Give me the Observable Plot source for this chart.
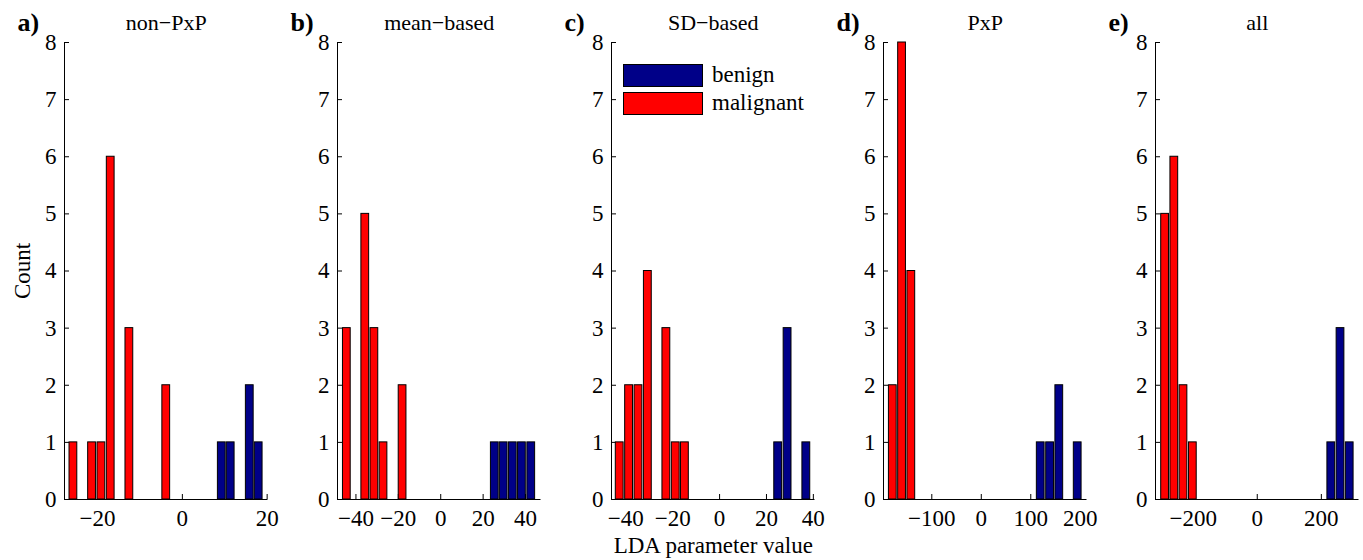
<!DOCTYPE html>
<html>
<head>
<meta charset="utf-8">
<script src="https://cdn.jsdelivr.net/npm/d3@7"></script>
<script src="https://cdn.jsdelivr.net/npm/@observablehq/plot@0.6"></script>
<style>
  html, body { margin: 0; padding: 0; background: #fff; }
  #chart { position: relative; width: 1363px; height: 560px; font-family: "Liberation Serif", "Times New Roman", serif; }
  #chart svg { position: absolute; top: 0; overflow: visible; }
  .legend { position: absolute; left: 623px; top: 61px; font-size: 23px; color: #000; }
  .legend .row { display: flex; align-items: center; height: 28px; }
  .legend .sw { width: 80px; height: 23px; border: 1px solid #000; box-sizing: border-box; margin-right: 9px; }
</style>
</head>
<body>
<div id="chart"></div>
<script>
// ---- data ----
const panelLetters = ["a)", "b)", "c)", "d)", "e)"];
const panelTitles = ["non\u2212PxP", "mean\u2212based", "SD\u2212based", "PxP", "all"];
const seriesNames = ["benign", "malignant"];

// malignant bins: centers and counts
const malignantX = [
  [-25.7, -21.3, -19.1, -16.9, -12.5, -3.8],
  [-44.3, -35.6, -31.3, -27.0, -18.0],
  [-42.6, -38.6, -34.6, -30.6, -22.7, -18.7, -14.8],
  [-178.8, -160.1, -141.4],
  [-287.6, -258.8, -230.2, -201.0]
];
const malignantCount = [
  [1, 1, 1, 6, 3, 2],
  [3, 5, 3, 1, 2],
  [1, 2, 2, 4, 3, 1, 1],
  [2, 8, 4],
  [5, 6, 2, 1]
];
// benign bins
const benignX = [
  [9.3, 11.4, 15.9, 18.0],
  [25.5, 29.7, 34.0, 38.3, 42.7],
  [25.0, 29.0, 37.0],
  [120.1, 139.0, 157.6, 194.8],
  [231.0, 259.8, 288.5]
];
const benignCount = [
  [1, 1, 2, 1],
  [1, 1, 1, 1, 1],
  [1, 3, 1],
  [1, 1, 2, 1],
  [1, 3, 1]
];
const binWidth = [2.185, 4.35, 3.98, 18.68, 28.8];
const xDomains = [[-27.8, 20.2], [-48.7, 47.3], [-46.1, 40.7], [-197.6, 213.6], [-317.5, 317.5]];
const xTicks = [[-20, 0, 20], [-40, -20, 0, 20, 40], [-40, -20, 0, 20, 40], [-100, 0, 100, 200], [-200, 0, 200]];
const yTicks = [0, 1, 2, 3, 4, 5, 6, 7, 8];
const yLabel = "Count";
const xLabel = "LDA parameter value";

// ---- styles / layout ----
const colors = {benign: "#000088", malignant: "#ff0000"};
const panelLeft = [0, 272.7, 546.7, 818.7, 1091];
const W = 267.5, H = 560;
const M = {top: 42, bottom: 61, left: 64, right: 0};
const plotW = W - M.left - M.right, plotH = H - M.top - M.bottom;
const font = "'Liberation Serif', 'Times New Roman', serif";

const chart = document.getElementById("chart");

for (let i = 0; i < 5; i++) {
  const mal = malignantX[i].map((x, j) => ({x, count: malignantCount[i][j]}));
  const ben = benignX[i].map((x, j) => ({x, count: benignCount[i][j]}));
  const hw = binWidth[i] * 0.42;
  const barOpts = (fill) => ({
    x1: d => d.x - hw, x2: d => d.x + hw,
    y1: d => 0, y2: d => d.count,
    fill, stroke: "#000", strokeWidth: 1
  });
  const svg = Plot.plot({
    width: W, height: H,
    marginTop: M.top, marginBottom: M.bottom, marginLeft: M.left, marginRight: M.right,
    style: {fontFamily: font, fontSize: "23px", background: "transparent", color: "#000"},
    x: {type: "linear", domain: xDomains[i], nice: false},
    y: {type: "linear", domain: [0, 8], nice: false},
    marks: [
      // inward tick marks
      Plot.tickX(xTicks[i], {x: d => d, insetTop: plotH - 5, stroke: "#000", strokeWidth: 1}),
      Plot.tickY(yTicks, {y: d => d, insetRight: plotW - 5, stroke: "#000", strokeWidth: 1}),
      Plot.rectY(mal, barOpts(colors.malignant)),
      Plot.rectY(ben, barOpts(colors.benign)),
      Plot.ruleY([0], {stroke: "#000", strokeWidth: 1}),
      Plot.ruleX([xDomains[i][0]], {stroke: "#000", strokeWidth: 1}),
      Plot.axisY({ticks: yTicks, tickSize: 0, tickPadding: 8, fontSize: 23,
        label: i === 0 ? yLabel : null, labelAnchor: "center", labelOffset: 51, labelArrow: "none"}),
      Plot.axisX({ticks: xTicks[i], tickSize: 0, tickPadding: 10, fontSize: 23,
        label: i === 2 ? xLabel : null, labelAnchor: "center", labelOffset: 53, labelArrow: "none"}),
      Plot.text([panelTitles[i]], {text: d => d, frameAnchor: "top", dy: -20, lineAnchor: "middle", fontSize: 22}),
      Plot.text([panelLetters[i]], {text: d => d, frameAnchor: "top-left", dx: -47, dy: -20,
        lineAnchor: "middle", textAnchor: "start", fontSize: 26, fontWeight: "bold"})
    ]
  });
  svg.style.left = panelLeft[i] + "px";
  chart.appendChild(svg);
}

// legend (inside panel c)
const legend = document.createElement("div");
legend.className = "legend";
seriesNames.forEach(name => {
  const row = document.createElement("div");
  row.className = "row";
  const sw = document.createElement("div");
  sw.className = "sw";
  sw.style.background = colors[name];
  const t = document.createElement("span");
  t.textContent = name;
  row.appendChild(sw);
  row.appendChild(t);
  legend.appendChild(row);
});
chart.appendChild(legend);
</script>
</body>
</html>
